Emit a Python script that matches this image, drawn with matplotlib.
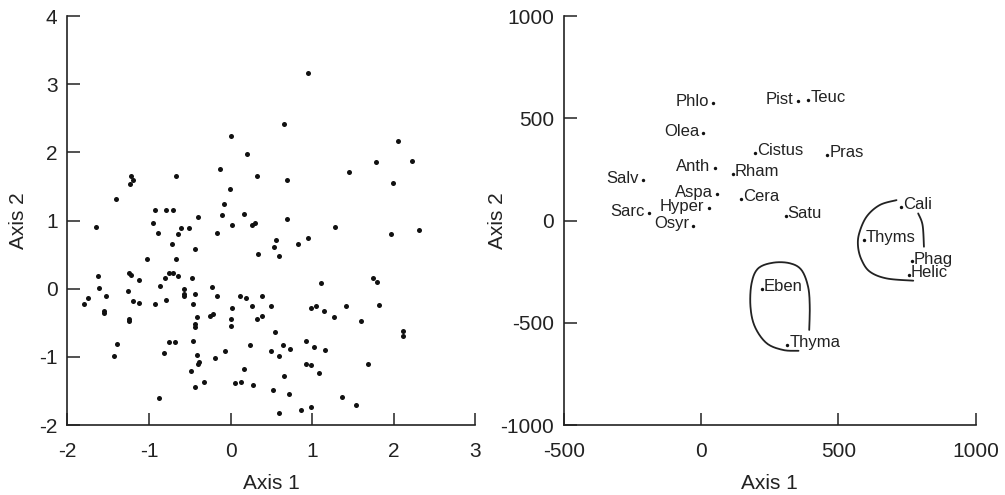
import numpy as np
import matplotlib
matplotlib.use('Agg')
import matplotlib.pyplot as plt

plt.rcParams['font.family'] = ['Liberation Sans', 'DejaVu Sans']
plt.rcParams['axes.unicode_minus'] = False

# left panel: sample scores
axis1_scores = [
    0.00, 0.20, -0.13, 0.33, -1.22, -1.20, -1.23, -0.67, -0.01, -1.40, -0.08, -0.92, -0.79, -0.70,
    0.16, -0.10, -0.40, -1.65, -0.95, -0.89, -0.65, -0.61, -0.51, -0.17, 0.02, 0.26, 0.30, 0.56,
    0.53, -0.72, -0.43,
    0.95, 0.66, 2.05, 1.78, 2.22, 1.45, 0.69, 1.99, 0.69, 1.28, 1.97, 2.31, 0.83, 0.95,
    0.59, 0.34, -1.02, -0.67, -1.63, -1.25, -1.22, -1.12, -0.75, -0.70, -0.64, -0.80, -0.47, -1.75,
    -1.61, -1.53, -1.79, -1.55, -1.55, -1.26, -1.20, -1.12, -1.25, -1.25, -0.86, -0.79, -0.92, -0.57,
    -0.57, -0.57, -0.43, -0.46, -0.23, -0.17, -0.41, -0.43, -0.44, -0.25, -0.21, 0.02, 0.01, 0.01,
    0.11, 0.19, 0.26, 0.38, 0.33, 0.38, 0.50, 0.54, -1.39, -1.43, -0.76, -0.68, -0.46, -0.82,
    -0.41, -0.39, -0.40, -0.19, -0.07, 0.24, 0.50, 0.59, -0.48, 0.17, -0.32, -0.44, 0.05, 0.13,
    0.27, 0.52, -0.88, 0.59,
    1.11, 1.74, 1.79, 0.99, 1.05, 1.15, 1.41, 1.82, 1.27, 1.60, 2.11, 2.11, 0.92, 0.64, 0.73,
    1.02, 1.16, 0.93, 0.98, 1.09, 1.68, 0.66, 0.72, 1.37, 1.54, 0.86, 0.98,
]
axis2_scores = [
    2.24, 1.98, 1.75, 1.65, 1.65, 1.60, 1.53, 1.65, 1.46, 1.31, 1.25, 1.15, 1.15, 1.15,
    1.10, 1.08, 1.05, 0.91, 0.96, 0.82, 0.80, 0.89, 0.89, 0.82, 0.93, 0.93, 0.96, 0.72,
    0.61, 0.65, 0.58,
    3.17, 2.41, 2.17, 1.86, 1.88, 1.71, 1.60, 1.55, 1.03, 0.91, 0.81, 0.86, 0.65, 0.75,
    0.48, 0.51, 0.44, 0.44, 0.18, 0.23, 0.20, 0.13, 0.23, 0.23, 0.18, 0.15, 0.15, -0.13,
    0.01, -0.11, -0.23, -0.32, -0.35, -0.04, -0.18, -0.21, -0.44, -0.48, 0.04, -0.16, -0.23, -0.01,
    -0.08, -0.11, -0.08, -0.23, 0.03, -0.10, -0.42, -0.52, -0.56, -0.40, -0.37, -0.28, -0.45, -0.54,
    -0.10, -0.13, -0.26, -0.10, -0.45, -0.40, -0.26, -0.64, -0.81, -0.99, -0.78, -0.78, -0.76, -0.94,
    -0.97, -1.07, -1.11, -1.02, -0.92, -0.83, -0.92, -0.99, -1.21, -1.18, -1.37, -1.44, -1.39, -1.37,
    -1.42, -1.49, -1.61, -1.82,
    0.08, 0.15, 0.10, -0.29, -0.26, -0.32, -0.26, -0.24, -0.42, -0.48, -0.62, -0.70, -0.76, -0.83, -0.88,
    -0.85, -0.90, -1.10, -1.12, -1.24, -1.10, -1.28, -1.54, -1.59, -1.71, -1.78, -1.74,
]

# right panel: species scores
species = ['Phlo', 'Pist', 'Teuc', 'Olea', 'Cistus', 'Pras', 'Anth', 'Rham', 'Salv', 'Aspa',
           'Cera', 'Sarc', 'Hyper', 'Satu', 'Osyr', 'Cali', 'Thyms', 'Phag', 'Helic', 'Eben', 'Thyma']
species_x = [44, 353, 390, 8, 196, 459, 50, 115, -213, 59,
             146, -191, 28, 308, -29, 730, 593, 768, 756, 221, 314]
species_y = [576, 583, 592, 429, 329, 320, 258, 226, 198, 130,
             104, 35, 60, 22, -25, 68, -95, -200, -265, -336, -610]
label_side = ['l', 'l', 'r', 'l', 'r', 'r', 'l', 'r', 'l', 'l',
              'r', 'l', 'l', 'r', 'l', 'r', 'r', 'r', 'r', 'r', 'r']

# hand-drawn group outlines (data units)
thyms_arc_x = [712, 651, 603, 576, 572, 585, 615, 676, 773]
thyms_arc_y = [100, 76, 19, -63, -128, -193, -250, -283, -294]
thyms_side_x = [791, 807, 812]
thyms_side_y = [35, -22, -128]
eben_loop_x = [355, 299, 239, 196, 180, 184, 208, 263, 324, 366, 390, 396, 394]
eben_loop_y = [-637, -633, -600, -519, -421, -307, -234, -206, -209, -242, -324, -421, -535]


def smooth_outline(xs, ys, n=12):
    # Catmull-Rom through the outline points so the pen stroke looks hand drawn
    p = np.column_stack([xs, ys]).astype(float)
    p = np.vstack([p[0], p, p[-1]])
    t = np.linspace(0, 1, n, endpoint=False)[:, None]
    out = []
    for i in range(1, len(p) - 2):
        p0, p1, p2, p3 = p[i - 1], p[i], p[i + 1], p[i + 2]
        out.append(0.5 * (2 * p1 + (-p0 + p2) * t + (2 * p0 - 5 * p1 + 4 * p2 - p3) * t ** 2
                          + (-p0 + 3 * p1 - 3 * p2 + p3) * t ** 3))
    out.append(p[-2][None, :])
    out = np.vstack(out)
    return out[:, 0], out[:, 1]


fig = plt.figure(figsize=(10.05, 4.95), dpi=100)
ax1 = fig.add_axes([0.067, 0.1414, 0.406, 0.826])
ax2 = fig.add_axes([0.561, 0.1414, 0.4097, 0.826])

ax1.scatter(axis1_scores, axis2_scores, s=13, color='#111111', linewidths=0)
ax1.set_xlim(-2, 3)
ax1.set_ylim(-2, 4)
ax1.set_xticks(np.arange(-2, 4, 1))
ax1.set_yticks(np.arange(-2, 5, 1))

ax2.scatter(species_x, species_y, s=6, color='#111111', linewidths=0)
for name, x, y, side in zip(species, species_x, species_y, label_side):
    if side == 'r':
        ax2.annotate(name, (x, y), xytext=(1.5, -1.5), textcoords='offset points',
                     ha='left', va='baseline', fontsize=12, color='#222222')
    else:
        ax2.annotate(name, (x, y), xytext=(-3, -2), textcoords='offset points',
                     ha='right', va='baseline', fontsize=12, color='#222222')
for cx, cy in [(thyms_arc_x, thyms_arc_y), (thyms_side_x, thyms_side_y), (eben_loop_x, eben_loop_y)]:
    sx, sy = smooth_outline(cx, cy)
    ax2.plot(sx, sy, color='#222222', lw=1.3, solid_capstyle='round')
ax2.set_xlim(-500, 1000)
ax2.set_ylim(-1000, 1000)
ax2.set_xticks(np.arange(-500, 1001, 500))
ax2.set_yticks(np.arange(-1000, 1001, 500))

for ax in (ax1, ax2):
    ax.spines['top'].set_visible(False)
    ax.spines['right'].set_visible(False)
    for s in ('left', 'bottom'):
        ax.spines[s].set_linewidth(1.2)
        ax.spines[s].set_color('#222222')
    ax.tick_params(direction='in', length=9, width=1.1, color='#222222',
                   labelsize=15, labelcolor='#222222')
    ax.tick_params(axis='x', pad=12)
    ax.tick_params(axis='y', pad=7)
    ax.set_xlabel('Axis 1', fontsize=15, color='#222222')
    ax.set_ylabel('Axis 2', fontsize=15, color='#222222')
    ax.xaxis.set_label_coords(0.5, -0.12)

ax1.yaxis.set_label_coords(-0.096, 0.5)
ax2.yaxis.set_label_coords(-0.138, 0.5)

fig.savefig('out.png', dpi=100)
